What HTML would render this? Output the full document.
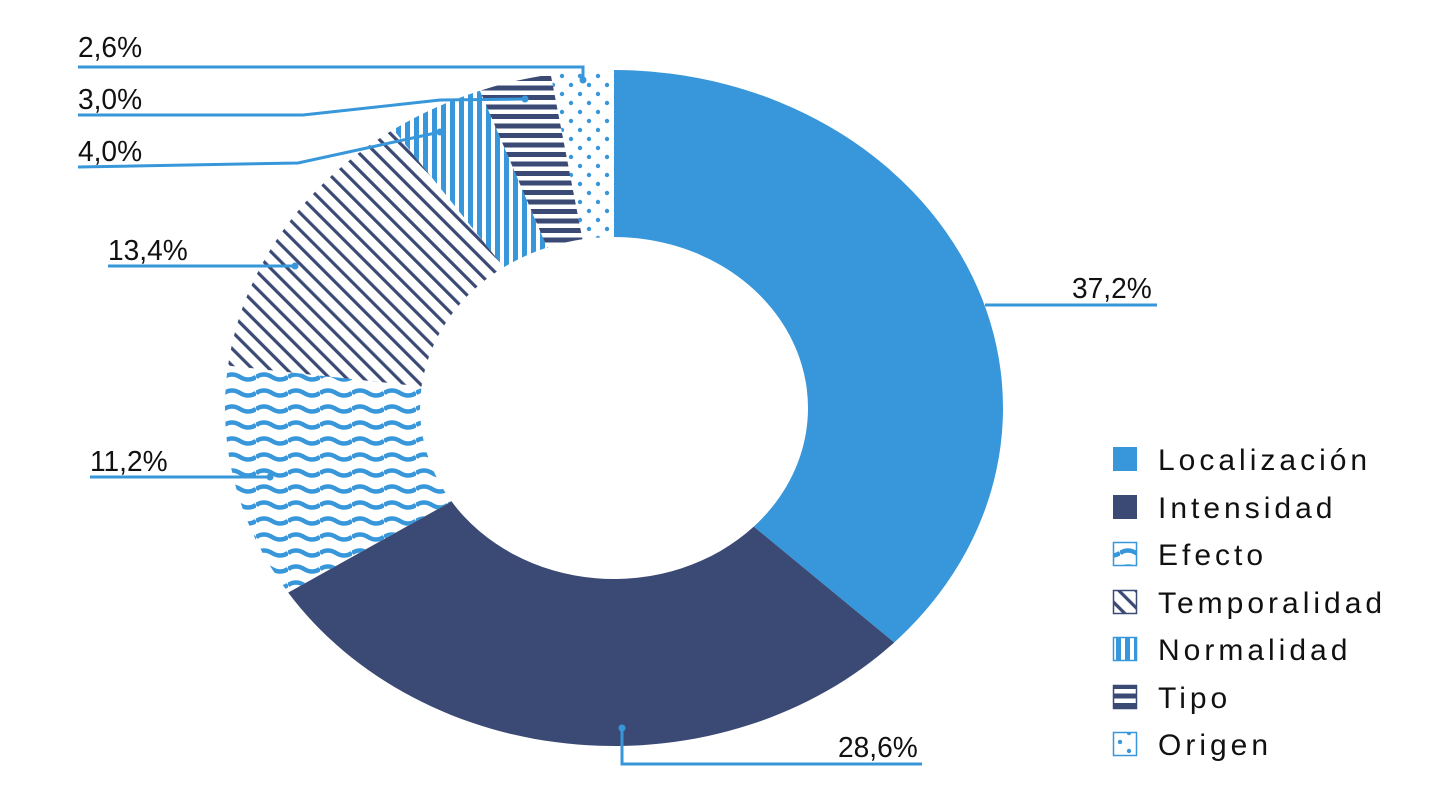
<!DOCTYPE html>
<html><head><meta charset="utf-8"><style>
html,body{margin:0;padding:0;background:#fff;}
svg{display:block;}
.lb{font-family:"Liberation Sans",sans-serif;font-size:29px;fill:#111;}
.lg{font-family:"Liberation Sans",sans-serif;font-size:30px;fill:#111;letter-spacing:4px;}
</style></head><body>
<svg id="s" width="1439" height="796" viewBox="0 0 1439 796" xmlns="http://www.w3.org/2000/svg">
<defs>
<pattern id="wave" width="32" height="16" patternUnits="userSpaceOnUse" y="4">
<path d="M0 5 Q8 0 16 5 T32 5" fill="none" stroke="#3797DA" stroke-width="4.5"/>
</pattern>
<pattern id="diag" width="12" height="12" patternUnits="userSpaceOnUse" patternTransform="rotate(-45)">
<rect x="0" y="0" width="3.2" height="12" fill="#3A4A74"/>
</pattern>
<pattern id="vert" width="9" height="10" patternUnits="userSpaceOnUse">
<rect x="0" y="0" width="5" height="10" fill="#3797DA"/>
</pattern>
<pattern id="hor" width="10" height="9.5" patternUnits="userSpaceOnUse">
<rect x="0" y="0" width="10" height="5" fill="#3A4A74"/>
</pattern>
<pattern id="dots" width="18" height="18" patternUnits="userSpaceOnUse">
<circle cx="4" cy="4" r="2.2" fill="#3797DA"/><circle cx="13" cy="13" r="2.2" fill="#3797DA"/>
</pattern>
</defs>
<g id="slices"></g>
<g fill="none" stroke="#3797DA" stroke-width="3">
<polyline points="78,67 583,67 583,80"/>
<polyline points="78,115 303,115 440,100 525,99"/>
<polyline points="78,167 298,163 440,132"/>
<polyline points="108,266 295,266"/>
<polyline points="90,477 270,477"/>
<polyline points="985,305 1157,305"/>
<polyline points="622,728 622,764 922,764"/>
</g>
<g fill="#3797DA">
<circle cx="583" cy="80" r="3.5"/><circle cx="525" cy="99" r="3.5"/><circle cx="440" cy="132" r="3.5"/>
<circle cx="295" cy="266" r="3.5"/><circle cx="270" cy="477" r="3.5"/><circle cx="622" cy="728" r="3.5"/>
</g>
<g class="lb">
<text x="78" y="57" transform="translate(78 0) scale(0.97 1) translate(-78 0)">2,6%</text>
<text x="78" y="109" transform="translate(78 0) scale(0.97 1) translate(-78 0)">3,0%</text>
<text x="78" y="161" transform="translate(78 0) scale(0.97 1) translate(-78 0)">4,0%</text>
<text x="108" y="260" transform="translate(108 0) scale(0.97 1) translate(-108 0)">13,4%</text>
<text x="90" y="471" transform="translate(90 0) scale(0.97 1) translate(-90 0)">11,2%</text>
<text x="1072" y="298" transform="translate(1072 0) scale(0.97 1) translate(-1072 0)">37,2%</text>
<text x="838" y="757" transform="translate(838 0) scale(0.97 1) translate(-838 0)">28,6%</text>
</g>
<g>
<rect x="1113" y="447" width="24" height="24" fill="#3797DA"/>
<rect x="1113" y="495" width="24" height="24" fill="#3A4A74"/>
<rect x="1113.5" y="542.5" width="23" height="23" fill="url(#wave)" stroke="#3797DA" stroke-width="1.5"/>
<rect x="1113.5" y="590.5" width="23" height="23" fill="url(#diag)" stroke="#3A4A74" stroke-width="1.5"/>
<rect x="1113.5" y="637.5" width="23" height="23" fill="url(#vert)" stroke="#3797DA" stroke-width="1.5"/>
<rect x="1113.5" y="685.5" width="23" height="23" fill="url(#hor)" stroke="#3A4A74" stroke-width="1.5"/>
<rect x="1113.5" y="732.5" width="23" height="23" fill="url(#dots)" stroke="#3797DA" stroke-width="1.5"/>
</g>
<g class="lg">
<text x="1158" y="470">Localización</text>
<text x="1158" y="518">Intensidad</text>
<text x="1158" y="565">Efecto</text>
<text x="1158" y="613">Temporalidad</text>
<text x="1158" y="660">Normalidad</text>
<text x="1158" y="708">Tipo</text>
<text x="1158" y="755">Origen</text>
</g>
</svg>
<script>
(function(){
var cx=614,cy=408,rx=389,ry=338,ix=194,iy=171;
var d=[[37.2,"#3797DA"],[28.6,"#3A4A74"],[11.2,"url(#wave)"],[13.4,"url(#diag)"],[4.0,"url(#vert)"],[3.0,"url(#hor)"],[2.6,"url(#dots)"]];
var g=document.getElementById("slices"),a=0,ns="http://www.w3.org/2000/svg";
function P(t,r1,r2){return [cx+r1*Math.sin(t),cy-r2*Math.cos(t)];}
d.forEach(function(s){
var a0=a/100*2*Math.PI;a+=s[0];var a1=a/100*2*Math.PI;
var lg=(a1-a0)>Math.PI?1:0;
var p0=P(a0,rx,ry),p1=P(a1,rx,ry),q1=P(a1,ix,iy),q0=P(a0,ix,iy);
var p=document.createElementNS(ns,"path");
p.setAttribute("d","M"+p0+" A"+rx+" "+ry+" 0 "+lg+" 1 "+p1+" L"+q1+" A"+ix+" "+iy+" 0 "+lg+" 0 "+q0+"Z");
p.setAttribute("fill",s[1]);
g.appendChild(p);
});
})();
</script>
</body></html>
